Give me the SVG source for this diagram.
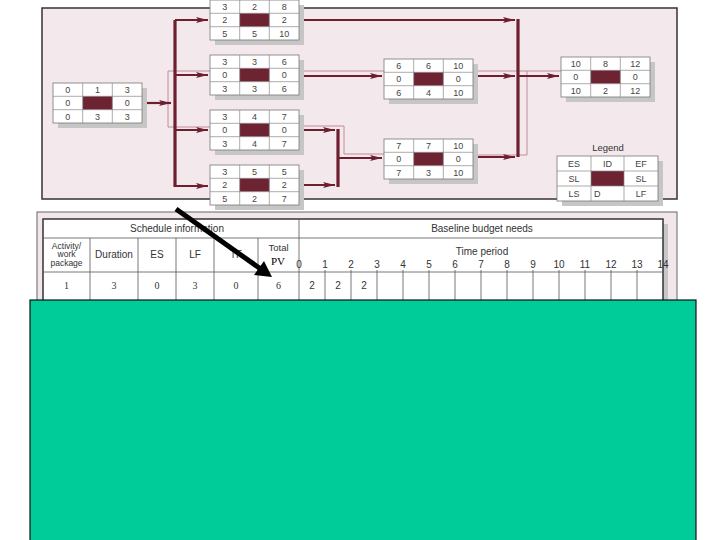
<svg xmlns="http://www.w3.org/2000/svg" width="720" height="540" viewBox="0 0 720 540">
<style>
.sh{fill:#c6c6c6}
.box{fill:#fff;stroke:#777;stroke-width:0.8}
.mid{fill:#6e2332}
.grid{fill:none;stroke:#888;stroke-width:0.7}
.nt{font-family:"Liberation Sans",Arial,sans-serif;font-size:9px;fill:#444;text-anchor:middle}
.thick{fill:none;stroke:#6d1f30;stroke-width:2.2}
.bus{fill:none;stroke:#6d1f30;stroke-width:3.2}
.thin{fill:none;stroke:#c48a98;stroke-width:1}
.tt{font-family:"Liberation Sans",Arial,sans-serif;font-size:10px;fill:#333;text-anchor:middle}
.th{font-family:"Liberation Sans",Arial,sans-serif;font-size:9.5px;fill:#333;text-anchor:middle}
.ta{font-family:"Liberation Sans",Arial,sans-serif;font-size:8.5px;fill:#333;text-anchor:middle}
.td{font-family:"Liberation Serif","Times New Roman",serif;font-size:10px;fill:#333;text-anchor:middle}
.tl{fill:none;stroke:#555;stroke-width:0.8}
</style>
<defs>
<marker id="ah" markerWidth="12" markerHeight="7" refX="12" refY="3.5" orient="auto" markerUnits="userSpaceOnUse">
<path d="M0,0.5 L12,3.5 L0,6.5 L2.5,3.5z" fill="#6d1f30"/>
</marker>
</defs>
<rect width="720" height="540" fill="#fff"/>
<!-- top panel -->
<rect x="42" y="8" width="635" height="191" fill="#f3e9ec" stroke="#333" stroke-width="1.5"/>
<!-- connectors -->
<g id="connectors">
<path class="thin" d="M168,71V127M168,71H210M168,127H210"/>
<path class="thin" d="M299,71H384"/>
<path class="thin" d="M473,71H561M527,71V155H473"/>
<path class="thin" d="M299,126H344V154H384"/>
<path class="thick" d="M142,103H171" marker-end="url(#ah)"/>
<path class="bus" d="M175,20V187"/>
<path class="thick" d="M175,20H208" marker-end="url(#ah)"/>
<path class="thick" d="M175,75H208" marker-end="url(#ah)"/>
<path class="thick" d="M175,130H208" marker-end="url(#ah)"/>
<path class="thick" d="M175,186H208" marker-end="url(#ah)"/>
<path class="thick" d="M299,20H515" marker-end="url(#ah)"/>
<path class="bus" d="M518,19V157"/>
<path class="thick" d="M299,76H382" marker-end="url(#ah)"/>
<path class="thick" d="M473,76H515" marker-end="url(#ah)"/>
<path class="thick" d="M473,157H515" marker-end="url(#ah)"/>
<path class="thick" d="M518,76H559" marker-end="url(#ah)"/>
<path class="thick" d="M299,130H335" marker-end="url(#ah)"/>
<path class="thick" d="M299,185H335" marker-end="url(#ah)"/>
<path class="bus" d="M338,129V187"/>
<path class="thick" d="M338,158H382" marker-end="url(#ah)"/>
</g>
<!-- nodes -->
<g id="nA" transform="translate(53,83)">
<rect class="sh" x="5" y="5" width="89" height="40"/><rect class="box" width="89" height="40"/>
<rect class="mid" x="29.7" y="13.3" width="29.7" height="13.3"/>
<path class="grid" d="M29.7,0V40M59.3,0V40M0,13.3H89M0,26.7H89"/>
<text class="nt" x="14.8" y="9.9">0</text><text class="nt" x="44.5" y="9.9">1</text><text class="nt" x="74.2" y="9.9">3</text>
<text class="nt" x="14.8" y="23.2">0</text><text class="nt" x="74.2" y="23.2">0</text>
<text class="nt" x="14.8" y="36.5">0</text><text class="nt" x="44.5" y="36.5">3</text><text class="nt" x="74.2" y="36.5">3</text>
</g>
<g id="n1" transform="translate(210,0)">
<rect class="sh" x="5" y="5" width="89" height="40"/><rect class="box" width="89" height="40"/>
<rect class="mid" x="29.7" y="13.3" width="29.7" height="13.3"/>
<path class="grid" d="M29.7,0V40M59.3,0V40M0,13.3H89M0,26.7H89"/>
<text class="nt" x="14.8" y="9.9">3</text><text class="nt" x="44.5" y="9.9">2</text><text class="nt" x="74.2" y="9.9">8</text>
<text class="nt" x="14.8" y="23.2">2</text><text class="nt" x="74.2" y="23.2">2</text>
<text class="nt" x="14.8" y="36.5">5</text><text class="nt" x="44.5" y="36.5">5</text><text class="nt" x="74.2" y="36.5">10</text>
</g>
<g id="n2" transform="translate(210,55)">
<rect class="sh" x="5" y="5" width="89" height="40"/><rect class="box" width="89" height="40"/>
<rect class="mid" x="29.7" y="13.3" width="29.7" height="13.3"/>
<path class="grid" d="M29.7,0V40M59.3,0V40M0,13.3H89M0,26.7H89"/>
<text class="nt" x="14.8" y="9.9">3</text><text class="nt" x="44.5" y="9.9">3</text><text class="nt" x="74.2" y="9.9">6</text>
<text class="nt" x="14.8" y="23.2">0</text><text class="nt" x="74.2" y="23.2">0</text>
<text class="nt" x="14.8" y="36.5">3</text><text class="nt" x="44.5" y="36.5">3</text><text class="nt" x="74.2" y="36.5">6</text>
</g>
<g id="n3" transform="translate(210,110)">
<rect class="sh" x="5" y="5" width="89" height="40"/><rect class="box" width="89" height="40"/>
<rect class="mid" x="29.7" y="13.3" width="29.7" height="13.3"/>
<path class="grid" d="M29.7,0V40M59.3,0V40M0,13.3H89M0,26.7H89"/>
<text class="nt" x="14.8" y="9.9">3</text><text class="nt" x="44.5" y="9.9">4</text><text class="nt" x="74.2" y="9.9">7</text>
<text class="nt" x="14.8" y="23.2">0</text><text class="nt" x="74.2" y="23.2">0</text>
<text class="nt" x="14.8" y="36.5">3</text><text class="nt" x="44.5" y="36.5">4</text><text class="nt" x="74.2" y="36.5">7</text>
</g>
<g id="n4" transform="translate(210,165)">
<rect class="sh" x="5" y="5" width="89" height="40"/><rect class="box" width="89" height="40"/>
<rect class="mid" x="29.7" y="13.3" width="29.7" height="13.3"/>
<path class="grid" d="M29.7,0V40M59.3,0V40M0,13.3H89M0,26.7H89"/>
<text class="nt" x="14.8" y="9.9">3</text><text class="nt" x="44.5" y="9.9">5</text><text class="nt" x="74.2" y="9.9">5</text>
<text class="nt" x="14.8" y="23.2">2</text><text class="nt" x="74.2" y="23.2">2</text>
<text class="nt" x="14.8" y="36.5">5</text><text class="nt" x="44.5" y="36.5">2</text><text class="nt" x="74.2" y="36.5">7</text>
</g>
<g id="n5" transform="translate(384,59)">
<rect class="sh" x="5" y="5" width="89" height="40"/><rect class="box" width="89" height="40"/>
<rect class="mid" x="29.7" y="13.3" width="29.7" height="13.3"/>
<path class="grid" d="M29.7,0V40M59.3,0V40M0,13.3H89M0,26.7H89"/>
<text class="nt" x="14.8" y="9.9">6</text><text class="nt" x="44.5" y="9.9">6</text><text class="nt" x="74.2" y="9.9">10</text>
<text class="nt" x="14.8" y="23.2">0</text><text class="nt" x="74.2" y="23.2">0</text>
<text class="nt" x="14.8" y="36.5">6</text><text class="nt" x="44.5" y="36.5">4</text><text class="nt" x="74.2" y="36.5">10</text>
</g>
<g id="n6" transform="translate(384,139)">
<rect class="sh" x="5" y="5" width="89" height="40"/><rect class="box" width="89" height="40"/>
<rect class="mid" x="29.7" y="13.3" width="29.7" height="13.3"/>
<path class="grid" d="M29.7,0V40M59.3,0V40M0,13.3H89M0,26.7H89"/>
<text class="nt" x="14.8" y="9.9">7</text><text class="nt" x="44.5" y="9.9">7</text><text class="nt" x="74.2" y="9.9">10</text>
<text class="nt" x="14.8" y="23.2">0</text><text class="nt" x="74.2" y="23.2">0</text>
<text class="nt" x="14.8" y="36.5">7</text><text class="nt" x="44.5" y="36.5">3</text><text class="nt" x="74.2" y="36.5">10</text>
</g>
<g id="n7" transform="translate(561,57)">
<rect class="sh" x="5" y="5" width="89" height="40"/><rect class="box" width="89" height="40"/>
<rect class="mid" x="29.7" y="13.3" width="29.7" height="13.3"/>
<path class="grid" d="M29.7,0V40M59.3,0V40M0,13.3H89M0,26.7H89"/>
<text class="nt" x="14.8" y="9.9">10</text><text class="nt" x="44.5" y="9.9">8</text><text class="nt" x="74.2" y="9.9">12</text>
<text class="nt" x="14.8" y="23.2">0</text><text class="nt" x="74.2" y="23.2">0</text>
<text class="nt" x="14.8" y="36.5">10</text><text class="nt" x="44.5" y="36.5">2</text><text class="nt" x="74.2" y="36.5">12</text>
</g>
<g id="legend">
<text class="th" x="608" y="151">Legend</text>
<g transform="translate(557,156)">
<rect class="sh" x="5" y="5" width="101" height="45"/><rect class="box" width="101" height="45"/>
<rect class="mid" x="34" y="15" width="33" height="15"/>
<path class="grid" d="M34,0V45M67,0V45M0,15H101M0,30H101"/>
<text class="nt" x="17" y="11">ES</text><text class="nt" x="50.5" y="11">ID</text><text class="nt" x="84" y="11">EF</text>
<text class="nt" x="17" y="26">SL</text><text class="nt" x="84" y="26">SL</text>
<text class="nt" x="17" y="41">LS</text><text class="nt" x="37" y="41" style="text-anchor:start">D</text><text class="nt" x="84" y="41">LF</text>
</g>
</g>
<!-- lower table -->
<g id="table">
<rect x="37" y="212" width="640" height="110" fill="#f1e7ea" stroke="#666" stroke-width="1"/>
<rect x="48" y="224" width="620" height="100" fill="#c6c6c6"/>
<rect x="43" y="219" width="620" height="110" fill="#fff" stroke="#333" stroke-width="1.5"/>
<path class="tl" d="M43,238H663M43,272H663M299,219V300M90,238V300M138,238V300M176,238V300M214,238V300M258,238V300"/>
<path class="tl" d="M325,270V300M351,270V300M377,270V300M403,270V300M429,270V300M455,270V300M481,270V300M507,270V300M533,270V300M559,270V300M585,270V300M611,270V300M637,270V300"/>
<text class="tt" x="177" y="232">Schedule information</text>
<text class="tt" x="482" y="232">Baseline budget needs</text>
<text class="tt" x="482" y="255">Time period</text>
<text class="ta" x="66.5" y="248.5">Activity/</text>
<text class="ta" x="66.5" y="257">work</text>
<text class="ta" x="66.5" y="266">package</text>
<text class="tt" x="114" y="258">Duration</text>
<text class="tt" x="157" y="258">ES</text>
<text class="tt" x="195" y="258">LF</text>
<text class="tt" x="236" y="258">TF</text>
<text class="th" x="278.5" y="251">Total</text>
<g class="tt">
<text x="299" y="268">0</text><text x="325" y="268">1</text><text x="351" y="268">2</text><text x="377" y="268">3</text><text x="403" y="268">4</text><text x="429" y="268">5</text><text x="455" y="268">6</text><text x="481" y="268">7</text><text x="507" y="268">8</text><text x="533" y="268">9</text><text x="559" y="268">10</text><text x="585" y="268">11</text><text x="611" y="268">12</text><text x="637" y="268">13</text><text x="663" y="268">14</text>
</g>
<text class="td" x="66.5" y="289">1</text>
<text class="td" x="114" y="289">3</text>
<text class="td" x="157" y="289">0</text>
<text class="td" x="195" y="289">3</text>
<text class="td" x="236" y="289">0</text>
<text class="td" x="278.5" y="289">6</text>
<text class="tt" x="312" y="289">2</text>
<text class="tt" x="338" y="289">2</text>
<text class="tt" x="364" y="289">2</text>
</g>
<!-- black arrow and PV -->
<g id="pv-arrow">
<path d="M176,209L260,268.5" stroke="#000" stroke-width="5" fill="none"/>
<polygon points="272,277 254,275 264,261" fill="#000"/>
</g>
<text x="278" y="265" font-family="'Liberation Serif','Times New Roman',serif" font-size="11" fill="#000" text-anchor="middle">PV</text>
<!-- green cover -->
<rect x="30" y="300" width="666" height="245" fill="#00cc99" stroke="#111" stroke-width="1.2"/>
</svg>
